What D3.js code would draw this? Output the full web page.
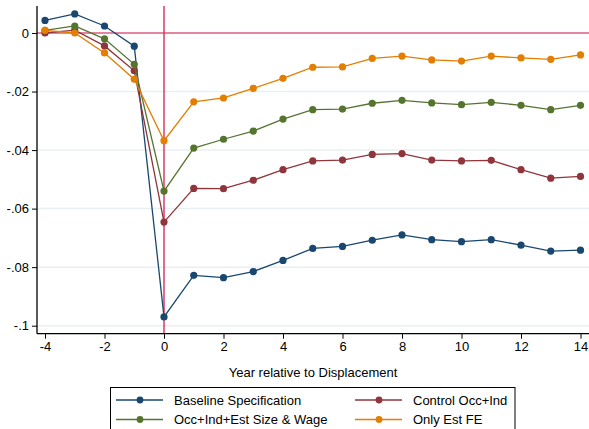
<!DOCTYPE html>
<html><head><meta charset="utf-8">
<script src="https://cdn.jsdelivr.net/npm/d3@7"></script>
<style>body{margin:0;background:#fff}svg{display:block}text{font-family:"Liberation Sans",Arial,sans-serif;fill:#000}</style>
</head><body><svg id="c" width="589" height="429"></svg>
<script>
const years = [-4,-3,-2,-1,0,1,2,3,4,5,6,7,8,9,10,11,12,13,14];
const baseline = [0.0043,0.0065,0.0024,-0.0045,-0.0970,-0.0828,-0.0836,-0.0815,-0.0777,-0.0736,-0.0729,-0.0708,-0.0690,-0.0706,-0.0713,-0.0706,-0.0725,-0.0745,-0.0742];
const controlOccInd = [0.0000,0.0010,-0.0044,-0.0129,-0.0646,-0.0531,-0.0532,-0.0503,-0.0467,-0.0437,-0.0434,-0.0415,-0.0412,-0.0434,-0.0437,-0.0435,-0.0467,-0.0496,-0.0490];
const occIndEst = [0.0009,0.0024,-0.0020,-0.0107,-0.0540,-0.0393,-0.0363,-0.0335,-0.0294,-0.0262,-0.0260,-0.0240,-0.0230,-0.0239,-0.0245,-0.0237,-0.0247,-0.0262,-0.0247];
const onlyEstFE = [0.0009,0.0000,-0.0068,-0.0158,-0.0368,-0.0235,-0.0222,-0.0189,-0.0155,-0.0117,-0.0116,-0.0087,-0.0079,-0.0092,-0.0096,-0.0079,-0.0085,-0.0090,-0.0075];
const seriesNames = ["Baseline Specification","Control Occ+Ind","Occ+Ind+Est Size & Wage","Only Est FE"];
const colors = ["#1a476f","#90353b","#55752f","#e37e00"];
const yTicks = [0,-0.02,-0.04,-0.06,-0.08,-0.1];
const yTickLabels = ["0","-.02","-.04","-.06","-.08","-.1"];
const xTicks = [-4,-2,0,2,4,6,8,10,12,14];
const xTickLabels = ["-4","-2","0","2","4","6","8","10","12","14"];
const xTitle = "Year relative to Displacement";

(function(){
const series = [baseline, controlOccInd, occIndEst, onlyEstFE];
const svg = d3.select("#c");
const x = d3.scaleLinear().domain([-4,14]).range([45,580.5]);
const y = d3.scaleLinear().domain([0,-0.1]).range([33,325.7]);
const pl = 37, pb = 333.7, pt = 6, pr = 589;

svg.append("g").selectAll("line").data(yTicks.filter(d=>d!==0)).join("line")
  .attr("x1",pl).attr("x2",pr).attr("y1",d=>y(d)).attr("y2",d=>y(d))
  .attr("stroke","#e8f0f1").attr("stroke-width",1.5);

svg.append("line").attr("x1",pl).attr("x2",pr).attr("y1",y(0)).attr("y2",y(0))
  .attr("stroke","#d4416b").attr("stroke-width",1.6).attr("opacity",0.85);
svg.append("line").attr("x1",x(0)).attr("x2",x(0)).attr("y1",pt).attr("y2",pb)
  .attr("stroke","#d92c5e").attr("stroke-width",1.4);

const yAxis = d3.axisLeft(y).tickValues(yTicks).tickFormat((d,i)=>yTickLabels[i]).tickSize(5).tickPadding(3);
const gy = svg.append("g").attr("transform",`translate(${pl},0)`).call(yAxis);
gy.select(".domain").attr("d",`M0,${pt}V${pb}`).attr("stroke","#000").attr("stroke-width",1.3);
gy.selectAll(".tick line").attr("stroke","#000");
gy.selectAll("text").attr("font-size",13).attr("font-family","Liberation Sans, Arial, sans-serif");

const xAxis = d3.axisBottom(x).tickValues(xTicks).tickFormat((d,i)=>xTickLabels[i]).tickSize(5).tickPadding(3);
const gx = svg.append("g").attr("transform",`translate(0,${pb})`).call(xAxis);
gx.select(".domain").attr("d",`M${pl},0H${pr}`).attr("stroke","#000").attr("stroke-width",1.3);
gx.selectAll(".tick line").attr("stroke","#000");
gx.selectAll("text").attr("font-size",13).attr("font-family","Liberation Sans, Arial, sans-serif");

svg.append("text").attr("x",313).attr("y",377).attr("text-anchor","middle").attr("font-size",13).text(xTitle);

const line = d3.line().x((d,i)=>x(years[i])).y(d=>y(d));
series.forEach((s,k)=>{
  svg.append("path").datum(s).attr("d",line).attr("fill","none").attr("stroke",colors[k]).attr("stroke-width",1.3);
  svg.append("g").selectAll("circle").data(s).join("circle")
    .attr("cx",(d,i)=>x(years[i])).attr("cy",d=>y(d)).attr("r",3.6).attr("fill",colors[k]);
});

const lg = svg.append("g");
lg.append("rect").attr("x",110.5).attr("y",387.5).attr("width",404.5).attr("height",60).attr("fill","#fff").attr("stroke","#000").attr("stroke-width",1);
const legPos = [[116,400],[355,400],[116,419.5],[355,419.5]];
[0,1,2,3].forEach((k,j)=>{
  const [lx,ly] = legPos[j];
  lg.append("line").attr("x1",lx).attr("x2",lx+47).attr("y1",ly).attr("y2",ly).attr("stroke",colors[k]).attr("stroke-width",1.3);
  lg.append("circle").attr("cx",lx+24).attr("cy",ly).attr("r",3.4).attr("fill",colors[k]);
  lg.append("text").attr("x",lx+58).attr("y",ly+4.5).attr("font-size",13).text(seriesNames[k]);
});
})();
</script></body></html>
